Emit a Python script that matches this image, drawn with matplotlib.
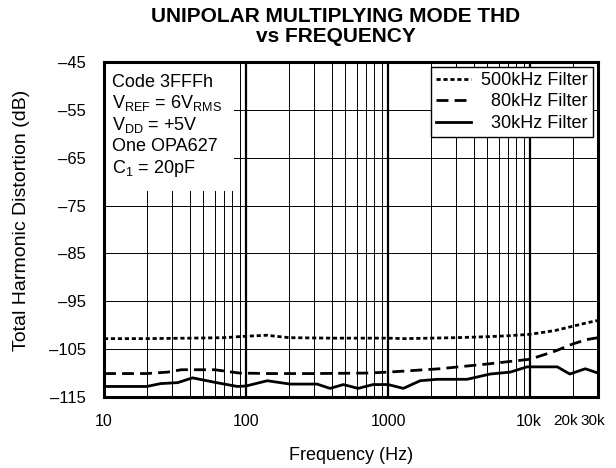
"""Unipolar multiplying mode THD vs frequency."""
import matplotlib
matplotlib.use('Agg')
import matplotlib.pyplot as plt
from matplotlib.patches import Rectangle
from matplotlib.ticker import FixedLocator, FixedFormatter
from matplotlib.transforms import ScaledTranslation

plt.rcParams['font.family'] = ['Liberation Sans', 'DejaVu Sans']
plt.rcParams['mathtext.fontset'] = 'custom'
plt.rcParams['mathtext.rm'] = 'Liberation Sans'

# 500kHz filter
f500 = [10, 20, 40, 70, 100, 140, 200, 400, 700, 1000, 1300, 2000, 3000,
        5000, 7000, 10000, 15000, 20000, 25000, 30000]
d500 = [-102.8, -102.8, -102.7, -102.6, -102.3, -102.1, -102.6, -102.7,
        -102.7, -102.7, -102.8, -102.7, -102.6, -102.4, -102.2, -101.9,
        -101.1, -100.2, -99.5, -99.0]

# 80kHz filter
f80 = [10, 20, 28, 35, 60, 90, 150, 300, 700, 1000, 2300, 5000, 10000,
       15000, 20000, 25000, 30000]
d80 = [-110.1, -110.1, -109.8, -109.3, -109.3, -110.0, -110.1, -110.1,
       -110.0, -109.8, -109.1, -108.1, -107.1, -105.4, -103.9, -103.0, -102.6]

# 30kHz filter
f30 = [10, 20, 25, 33, 42, 62, 87, 100, 141, 204, 316, 390, 484, 615, 784,
       1000, 1280, 1680, 2220, 3600, 5220, 7230, 9500, 15500, 19000, 24400,
       30000]
d30 = [-112.8, -112.8, -112.2, -112.0, -111.0, -112.0, -112.8, -112.7,
       -111.6, -112.3, -112.3, -113.2, -112.4, -113.2, -112.4, -112.4,
       -113.2, -111.6, -111.3, -111.3, -110.2, -109.8, -108.7, -108.7,
       -110.2, -109.1, -110.0]

yticks = [-45, -55, -65, -75, -85, -95, -105, -115]
ylabels = ['\u201345', '\u201355', '\u201365', '\u201375', '\u201385',
           '\u201395', '\u2013105', '\u2013115']
xmajor = [10, 100, 1000, 10000]
xmajor_labels = ['10', '100', '1000', '10k']
xminor = [m * d for d in (10, 100, 1000) for m in range(2, 10)] + [20000, 30000]
xminor_labels = ['' for _ in xminor[:-2]] + ['20k', '30k']

notes = ['Code 3FFFh',
         r'V$_{\mathrm{REF}}$ = 6V$_{\mathrm{RMS}}$',
         r'V$_{\mathrm{DD}}$ = +5V',
         'One OPA627',
         r'C$_{\mathrm{1}}$ = 20pF']

fig = plt.figure(figsize=(6.16, 4.68), dpi=100)
ax = fig.add_axes([0.1688, 0.1517, 0.8020, 0.7158])

lw = 2.0
ax.plot(f500, d500, 'k', lw=lw, dashes=(1.5, 1.0), label='500kHz Filter')
ax.plot(f80, d80, 'k', lw=lw, dashes=(4.3, 2.2),
        label='\u200780kHz Filter')
ax.plot(f30, d30, 'k', lw=lw, label='\u200730kHz Filter')

ax.set_xscale('log')
ax.set_xlim(10, 30000)
ax.set_ylim(-115, -45)

ax.xaxis.set_major_locator(FixedLocator(xmajor))
ax.xaxis.set_major_formatter(FixedFormatter(xmajor_labels))
ax.xaxis.set_minor_locator(FixedLocator(xminor))
ax.xaxis.set_minor_formatter(FixedFormatter(xminor_labels))
ax.set_yticks(yticks)
ax.set_yticklabels(ylabels)

ax.tick_params(axis='both', which='both', length=0, labelcolor='k')
ax.tick_params(axis='x', which='both', pad=12, labelsize=11.5)
ax.tick_params(axis='y', pad=13, labelsize=12)

# 10k / 20k / 30k labels are squeezed in at the right edge
narrow = ['Liberation Sans Narrow', 'Liberation Sans', 'DejaVu Sans']
shifts = {'10k': -2, '20k': -7, '30k': -5}
for lab in ax.xaxis.get_majorticklabels() + ax.xaxis.get_minorticklabels():
    txt = lab.get_text()
    if txt in shifts:
        if txt != '10k':
            lab.set_family(narrow)
            lab.set_fontsize(11)
        lab.set_transform(lab.get_transform() +
                          ScaledTranslation(shifts[txt] / 100, 0,
                                            fig.dpi_scale_trans))

# Grid: thick decades, thin the rest
ax.set_axisbelow(True)
ax.grid(True, axis='x', which='major', color='k', lw=1.6)
ax.grid(True, axis='x', which='minor', color='k', lw=0.7)
ax.grid(True, axis='y', which='major', color='k', lw=0.7)

for s in ax.spines.values():
    s.set_linewidth(2.2)

# Conditions box
ax.add_patch(Rectangle((0, 0.616), 0.263, 0.384, transform=ax.transAxes,
                       facecolor='white', edgecolor='none', zorder=2.5))
for i, t in enumerate(notes):
    ax.text(0.016, 0.926 - i * 0.064, t, transform=ax.transAxes,
            fontsize=13, va='baseline', ha='left', zorder=3)

leg = ax.legend(loc='upper right', fontsize=13, fancybox=False,
                framealpha=1, edgecolor='k', borderaxespad=0.25,
                borderpad=0.3, labelspacing=0.25, handlelength=1.9,
                handletextpad=0.6)
leg.get_frame().set_linewidth(1.0)

fig.text(0.5455, 0.9109, 'UNIPOLAR MULTIPLYING MODE THD\nvs FREQUENCY',
         ha='center', va='baseline', fontsize=15, fontweight='bold',
         linespacing=1.03, multialignment='center')
fig.text(0.570, 0.017, 'Frequency (Hz)', ha='center', va='baseline',
         fontsize=13)
fig.text(0.035, 0.53, 'Total Harmonic Distortion (dB)', ha='center',
         va='center', rotation=90, fontsize=14)

fig.savefig('out.png', dpi=100)
